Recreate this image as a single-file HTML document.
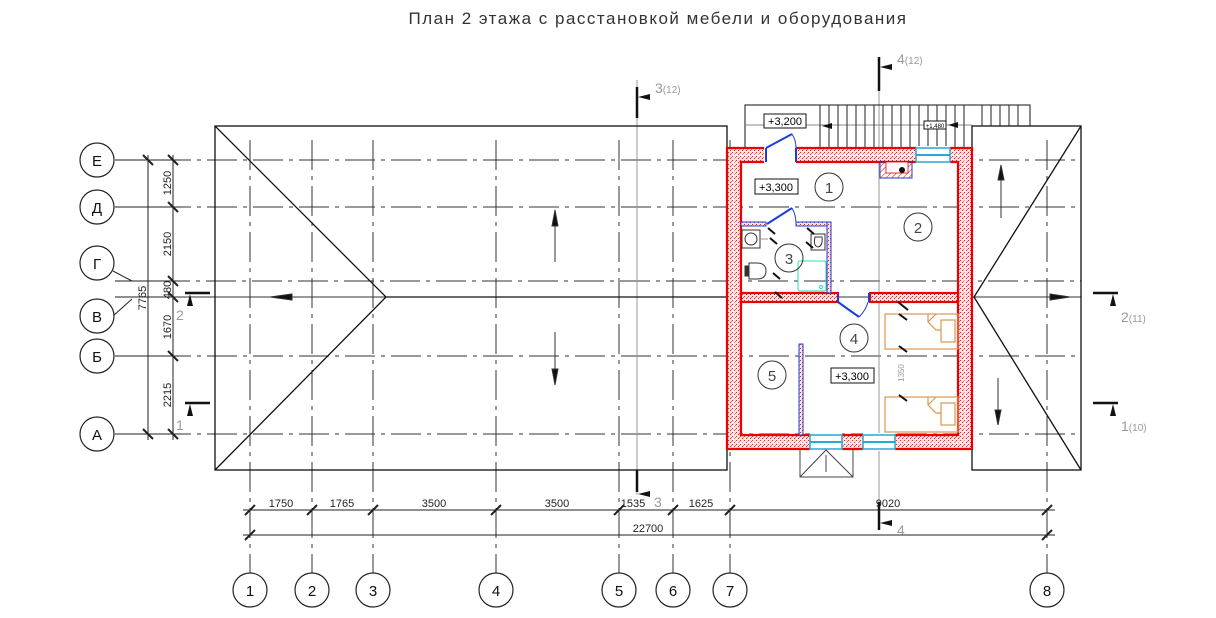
<!DOCTYPE html>
<html><head><meta charset="utf-8"><style>
html,body{margin:0;padding:0;background:#fff;}
svg{display:block;font-family:"Liberation Sans",sans-serif;}
</style></head><body>
<svg width="1216" height="618" viewBox="0 0 1216 618" xmlns="http://www.w3.org/2000/svg">
<defs>
<pattern id="dots" width="4" height="4" patternUnits="userSpaceOnUse">
<rect width="4" height="4" fill="#fbe3e3"/><rect x="0" y="0" width="1" height="1" fill="#e22"/><rect x="2" y="2" width="1" height="1" fill="#e22"/><rect x="3" y="1" width="1" height="1" fill="#f66"/>
</pattern>
<pattern id="hatch" width="4" height="4" patternUnits="userSpaceOnUse" patternTransform="rotate(45)">
<line x1="0" y1="0" x2="0" y2="4" stroke="#e22" stroke-width="1.2"/>
</pattern>
</defs>
<text x="658" y="24" font-size="17" text-anchor="middle" fill="#333" letter-spacing="1.5">План 2 этажа с расстановкой мебели и оборудования</text>

<!-- grid lines horizontal -->
<g stroke="#333" stroke-width="1">
<line x1="115" y1="160" x2="1081" y2="160" stroke-dasharray="30 6 4 6"/>
<line x1="115" y1="207" x2="1081" y2="207" stroke-dasharray="30 6 4 6"/>
<line x1="160" y1="281" x2="1081" y2="281" stroke-dasharray="30 6 4 6"/>
<line x1="160" y1="297" x2="1081" y2="297"/>
<line x1="115" y1="356" x2="1081" y2="356" stroke-dasharray="30 6 4 6"/>
<line x1="115" y1="434" x2="1081" y2="434" stroke-dasharray="30 6 4 6"/>
</g>
<!-- vertical grid -->
<g stroke="#333" stroke-width="1">
<line x1="250" y1="140" x2="250" y2="573" stroke-dasharray="30 6 4 6"/>
<line x1="312" y1="140" x2="312" y2="573" stroke-dasharray="30 6 4 6"/>
<line x1="373" y1="140" x2="373" y2="573" stroke-dasharray="30 6 4 6"/>
<line x1="496" y1="140" x2="496" y2="573" stroke-dasharray="30 6 4 6"/>
<line x1="619" y1="140" x2="619" y2="573" stroke-dasharray="30 6 4 6"/>
<line x1="673" y1="140" x2="673" y2="573" stroke-dasharray="30 6 4 6"/>
<line x1="730" y1="140" x2="730" y2="573" stroke-dasharray="30 6 4 6"/>
<line x1="1047" y1="140" x2="1047" y2="573" stroke-dasharray="30 6 4 6"/>
</g>
<line x1="637" y1="80" x2="637" y2="495" stroke="#999" stroke-width="1"/>
<line x1="879" y1="60" x2="879" y2="530" stroke="#999" stroke-width="1"/>

<!-- left roof -->
<g stroke="#111" stroke-width="1.3" fill="none">
<rect x="215" y="126" width="512" height="344"/>
<polyline points="215,126 386,297 215,470"/>
<line x1="386" y1="297" x2="727" y2="297"/>
<rect x="972" y="126" width="109" height="344"/>
<polyline points="1081,126 974,297 1081,470"/>
</g>
<g stroke="#333" stroke-width="1" fill="#111">
<line x1="555" y1="210" x2="555" y2="262"/><polygon points="555,210 552,226 558,226"/>
<line x1="555" y1="332" x2="555" y2="385"/><polygon points="555,385 552,369 558,369"/>
<polygon points="270,297 292,294 292,300"/>
<line x1="1001" y1="165" x2="1001" y2="218"/><polygon points="1001,165 998,180 1004,180"/>
<line x1="998" y1="378" x2="998" y2="425"/><polygon points="998,425 995,410 1001,410"/>
<polygon points="1070,297 1050,294 1050,300"/>
</g>

<!-- stairs -->
<g stroke="#111" stroke-width="1" fill="none">
<polyline points="745,148 745,105 1030,105 1030,126"/>
<line x1="745" y1="125" x2="972" y2="125" stroke="#888"/>
</g>
<g stroke="#222" stroke-width="1">
<line x1="820" y1="105" x2="820" y2="148"/><line x1="829" y1="105" x2="829" y2="148"/><line x1="838" y1="105" x2="838" y2="148"/><line x1="847" y1="105" x2="847" y2="148"/><line x1="856" y1="105" x2="856" y2="148"/><line x1="865" y1="105" x2="865" y2="148"/><line x1="874" y1="105" x2="874" y2="148"/><line x1="883" y1="105" x2="883" y2="148"/><line x1="892" y1="105" x2="892" y2="148"/><line x1="901" y1="105" x2="901" y2="148"/><line x1="910" y1="105" x2="910" y2="148"/><line x1="919" y1="105" x2="919" y2="148"/><line x1="928" y1="105" x2="928" y2="148"/><line x1="937" y1="105" x2="937" y2="148"/><line x1="946" y1="105" x2="946" y2="148"/><line x1="955" y1="105" x2="955" y2="148"/><line x1="964" y1="105" x2="964" y2="148"/>
<line x1="982" y1="105" x2="982" y2="126"/><line x1="991" y1="105" x2="991" y2="126"/><line x1="1000" y1="105" x2="1000" y2="126"/><line x1="1009" y1="105" x2="1009" y2="126"/><line x1="1018" y1="105" x2="1018" y2="126"/>
</g>
<rect x="764" y="114" width="42" height="14" fill="#fff" stroke="#111"/>
<text x="785" y="125" font-size="11" text-anchor="middle">+3,200</text>
<polygon points="822,126 832,123 832,129" fill="#111"/>
<rect x="924" y="121" width="22" height="8" fill="#fff" stroke="#111"/>
<text x="935" y="128" font-size="6" text-anchor="middle">+1,480</text>
<polygon points="948,125 958,122 958,128" fill="#111"/>

<!-- walls -->
<g fill="url(#dots)" stroke="#e00" stroke-width="2.2">
<path d="M727,148 H972 V449 H727 Z M741,162 V435 H958 V162 Z" fill-rule="evenodd"/>
<rect x="741" y="293" width="97" height="9"/>
<rect x="870" y="293" width="88" height="9"/>
</g>
<rect x="734" y="155" width="231" height="287" fill="none" stroke="#fff" stroke-width="1" stroke-dasharray="4 2"/>
<g fill="#fff" stroke="none">
<rect x="764" y="146" width="32" height="18"/>
<rect x="916" y="146" width="34" height="18"/>
<rect x="810" y="433" width="32" height="18"/>
<rect x="863" y="433" width="32" height="18"/>
</g>
<g stroke="#29a8d8" stroke-width="1.5" fill="none">
<rect x="916" y="148" width="34" height="14"/><line x1="916" y1="155" x2="950" y2="155" stroke-width="2"/>
<rect x="810" y="435" width="32" height="14"/><line x1="810" y1="442" x2="842" y2="442" stroke-width="2"/>
<rect x="863" y="435" width="32" height="14"/><line x1="863" y1="442" x2="895" y2="442" stroke-width="2"/>
</g>
<g stroke="#1a3fd8" stroke-width="2" fill="none">
<line x1="766" y1="148" x2="766" y2="162"/><line x1="796" y1="148" x2="796" y2="162"/>
<polyline points="766,148 792,134"/><path d="M792,134 Q796,140 796,148" stroke-width="1"/>
<polyline points="767,224 792,208"/><path d="M792,208 Q796,215 796,224" stroke-width="1"/>
<polyline points="838,302 859,317"/><path d="M859,317 Q866,310 868,302" stroke-width="1"/>
<line x1="838" y1="293" x2="838" y2="302"/><line x1="869" y1="293" x2="869" y2="302"/>
</g>
<g fill="url(#dots)" stroke="#1a3fd8" stroke-width="1">
<rect x="741" y="222" width="25" height="4"/>
<rect x="796" y="222" width="35" height="4"/>
<rect x="827" y="222" width="4" height="71"/>
<rect x="799" y="344" width="4" height="91"/>
</g>
<rect x="880" y="162" width="32" height="16" fill="url(#hatch)" stroke="#1a3fd8"/>
<rect x="886" y="162" width="22" height="11" fill="#fff" stroke="#e00" stroke-width="0.8"/>
<circle cx="902" cy="170" r="3" fill="#111"/>
<g stroke="#333" stroke-width="1" fill="none">
<rect x="742" y="230" width="18" height="18"/><circle cx="751" cy="239" r="6"/>
<line x1="760" y1="239" x2="768" y2="239" stroke="#999"/>
<rect x="811" y="234" width="14" height="16"/><path d="M815,237 Q813,246 818,247 Q823,246 822,237 Z"/>
<rect x="745" y="266" width="4" height="10" fill="#333"/><path d="M749,263 H757 Q766,263 766,271 Q766,279 757,279 H749 Z"/>
</g>
<rect x="798" y="261" width="28" height="30" rx="2" fill="none" stroke="#2bd8b0" stroke-width="1"/>
<circle cx="821" cy="287" r="1.5" fill="none" stroke="#2bd8b0"/>
<g stroke="#d89850" stroke-width="1.2" fill="none">
<rect x="885" y="314" width="73" height="35"/><rect x="941" y="320" width="14" height="22"/><path d="M928,314 V322 L936,330 H941"/><line x1="928" y1="322" x2="936" y2="314"/>
<rect x="885" y="397" width="73" height="35"/><rect x="941" y="403" width="14" height="22"/><path d="M928,397 V405 L936,413 H941"/><line x1="928" y1="405" x2="936" y2="397"/>
</g>
<g stroke="#111" stroke-width="2">
<line x1="898" y1="302" x2="908" y2="310"/><line x1="899" y1="314" x2="907" y2="320"/><line x1="899" y1="346" x2="907" y2="352"/><line x1="899" y1="395" x2="907" y2="401"/>
<line x1="768" y1="228" x2="775" y2="234"/><line x1="770" y1="238" x2="777" y2="244"/><line x1="807" y1="228" x2="814" y2="234"/><line x1="806" y1="242" x2="813" y2="248"/>
<line x1="773" y1="273" x2="780" y2="279"/><line x1="775" y1="292" x2="782" y2="298"/>
</g>
<text x="904" y="382" font-size="8" fill="#999" transform="rotate(-90 904 382)">1350</text>
<g fill="none" stroke="#333" stroke-width="1">
<circle cx="829" cy="187" r="14"/><circle cx="918" cy="227" r="14"/><circle cx="789" cy="258" r="14"/><circle cx="854" cy="338" r="14"/><circle cx="772" cy="375" r="14"/>
</g>
<g font-size="15" fill="#444" text-anchor="middle">
<text x="829" y="193">1</text><text x="918" y="233">2</text><text x="789" y="264">3</text><text x="854" y="344">4</text><text x="772" y="381">5</text>
</g>
<rect x="755" y="179" width="43" height="15" fill="#fff" stroke="#111"/><text x="776" y="191" font-size="11" text-anchor="middle">+3,300</text>
<rect x="831" y="368" width="43" height="15" fill="#fff" stroke="#111"/><text x="852" y="380" font-size="11" text-anchor="middle">+3,300</text>
<g stroke="#444" stroke-width="1" fill="none">
<polyline points="800,450 800,477 853,477 853,450"/>
<polyline points="800,477 826,450 853,477"/>
<line x1="826" y1="455" x2="826" y2="472"/>
</g>

<g stroke="#111" stroke-width="2.5">
<line x1="637" y1="87" x2="637" y2="118"/><line x1="637" y1="470" x2="637" y2="492"/>
<line x1="879" y1="57" x2="879" y2="91"/><line x1="879" y1="502" x2="879" y2="530"/>
<line x1="185" y1="293" x2="210" y2="293"/><line x1="185" y1="403" x2="210" y2="403"/>
<line x1="1093" y1="293" x2="1118" y2="293"/><line x1="1093" y1="403" x2="1118" y2="403"/>
</g>
<g fill="#111"><polygon points="638,97 650,94 650,100"/><polygon points="638,494 650,491 650,497"/><polygon points="880,67 892,64 892,70"/><polygon points="880,523 892,520 892,526"/>
<polygon points="190,294 187,306 193,306"/><polygon points="190,404 187,416 193,416"/><polygon points="1113,294 1110,306 1116,306"/><polygon points="1113,404 1110,416 1116,416"/></g>
<g fill="#999" font-size="14">
<text x="655" y="93">3<tspan font-size="10">(12)</tspan></text>
<text x="654" y="507">3</text>
<text x="897" y="64">4<tspan font-size="10">(12)</tspan></text>
<text x="897" y="535">4</text>
<text x="176" y="320">2</text><text x="176" y="430">1</text>
<text x="1121" y="322">2<tspan font-size="10">(11)</tspan></text><text x="1121" y="431">1<tspan font-size="10">(10)</tspan></text>
</g>

<g stroke="#222" stroke-width="1">
<line x1="148" y1="155" x2="148" y2="440"/><line x1="173" y1="155" x2="173" y2="440"/>
<line x1="115" y1="160" x2="180" y2="160"/><line x1="115" y1="207" x2="180" y2="207"/><line x1="115" y1="356" x2="180" y2="356"/><line x1="115" y1="434" x2="180" y2="434"/>
<line x1="115" y1="281" x2="180" y2="281"/><line x1="115" y1="297" x2="180" y2="297"/>
<line x1="143" y1="155" x2="153" y2="165" stroke-width="2"/><line x1="143" y1="429" x2="153" y2="439" stroke-width="2"/>
<line x1="168" y1="155" x2="178" y2="165" stroke-width="2"/><line x1="168" y1="202" x2="178" y2="212" stroke-width="2"/><line x1="168" y1="276" x2="178" y2="286" stroke-width="2"/><line x1="168" y1="292" x2="178" y2="302" stroke-width="2"/><line x1="168" y1="351" x2="178" y2="361" stroke-width="2"/><line x1="168" y1="429" x2="178" y2="439" stroke-width="2"/>
<line x1="113" y1="271" x2="132" y2="281"/><line x1="113" y1="316" x2="132" y2="299"/>
</g>
<g font-size="11" fill="#222">
<text transform="translate(171,183) rotate(-90)" text-anchor="middle">1250</text>
<text transform="translate(171,244) rotate(-90)" text-anchor="middle">2150</text>
<text transform="translate(171,290) rotate(-90)" text-anchor="middle">480</text>
<text transform="translate(171,327) rotate(-90)" text-anchor="middle">1670</text>
<text transform="translate(171,395) rotate(-90)" text-anchor="middle">2215</text>
<text transform="translate(146,298) rotate(-90)" text-anchor="middle">7765</text>
</g>
<g fill="#fff" stroke="#222" stroke-width="1.2">
<circle cx="97" cy="160" r="17"/><circle cx="97" cy="207" r="17"/><circle cx="97" cy="263" r="17"/><circle cx="97" cy="316" r="17"/><circle cx="97" cy="356" r="17"/><circle cx="97" cy="434" r="17"/>
</g>
<g font-size="15" text-anchor="middle" fill="#111">
<text x="97" y="166">Е</text><text x="97" y="213">Д</text><text x="97" y="269">Г</text><text x="97" y="322">В</text><text x="97" y="362">Б</text><text x="97" y="440">А</text>
</g>

<g stroke="#222" stroke-width="1">
<line x1="243" y1="510" x2="1055" y2="510"/><line x1="243" y1="535" x2="1055" y2="535"/>
<g stroke-width="2">
<line x1="245" y1="515" x2="255" y2="505"/><line x1="245" y1="540" x2="255" y2="530"/>
<line x1="307" y1="515" x2="317" y2="505"/><line x1="368" y1="515" x2="378" y2="505"/><line x1="491" y1="515" x2="501" y2="505"/><line x1="614" y1="515" x2="624" y2="505"/><line x1="668" y1="515" x2="678" y2="505"/><line x1="725" y1="515" x2="735" y2="505"/><line x1="1042" y1="515" x2="1052" y2="505"/><line x1="1042" y1="540" x2="1052" y2="530"/>
</g>
</g>
<g font-size="11" fill="#222" text-anchor="middle">
<text x="281" y="507">1750</text><text x="342" y="507">1765</text><text x="434" y="507">3500</text><text x="557" y="507">3500</text><text x="633" y="507">1535</text><text x="701" y="507">1625</text><text x="888" y="507">9020</text><text x="648" y="532">22700</text>
</g>
<g fill="#fff" stroke="#222" stroke-width="1.2">
<circle cx="250" cy="590" r="17"/><circle cx="312" cy="590" r="17"/><circle cx="373" cy="590" r="17"/><circle cx="496" cy="590" r="17"/><circle cx="619" cy="590" r="17"/><circle cx="673" cy="590" r="17"/><circle cx="730" cy="590" r="17"/><circle cx="1047" cy="590" r="17"/>
</g>
<g font-size="15" text-anchor="middle" fill="#111">
<text x="250" y="596">1</text><text x="312" y="596">2</text><text x="373" y="596">3</text><text x="496" y="596">4</text><text x="619" y="596">5</text><text x="673" y="596">6</text><text x="730" y="596">7</text><text x="1047" y="596">8</text>
</g>
</svg>
</body></html>
